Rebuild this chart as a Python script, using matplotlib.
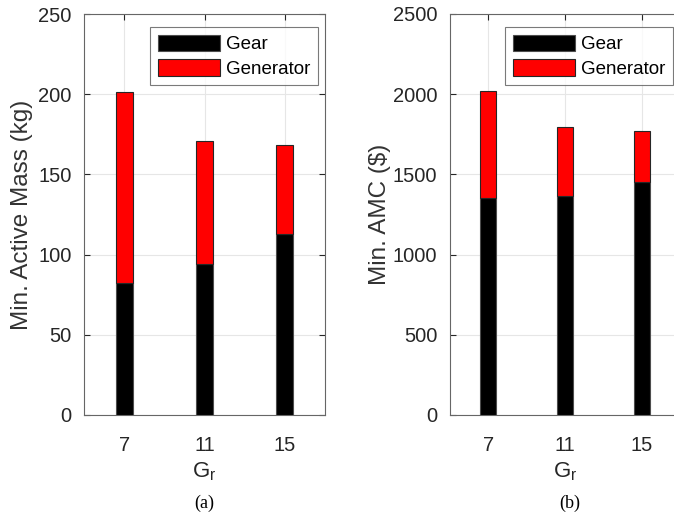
import matplotlib

matplotlib.use("Agg")
import matplotlib.pyplot as plt
from matplotlib.ticker import MultipleLocator

# gear ratios and stacked components
ratios = [7, 11, 15]
mass_gear = [82, 94, 113]
mass_gen = [119.5, 77, 55.5]
cost_gear = [1355, 1365, 1455]
cost_gen = [667, 428, 316]

plt.rcParams["font.family"] = ["Liberation Sans", "DejaVu Sans"]

W, H = 674, 512
fig = plt.figure(figsize=(W / 100, H / 100), dpi=100)


def panel(left, width, gear, gen, ylim, ystep, ylabel, label_x, caption):
    ax = fig.add_axes([left / W, (H - 415) / H, width / W, 401 / H])
    ax.bar(ratios, gear, width=0.83, color="black", edgecolor="0.3", lw=0.8,
           label="Gear", zorder=3)
    ax.bar(ratios, gen, bottom=gear, width=0.83, color="#ff0000",
           edgecolor="0.15", lw=0.8, label="Generator", zorder=3)
    ax.set_xlim(5, 17)
    ax.set_ylim(0, ylim)
    ax.set_xticks(ratios)
    ax.yaxis.set_major_locator(MultipleLocator(ystep))
    ax.grid(True, color="0.9", lw=0.8, zorder=0)
    ax.tick_params(direction="in", length=4, labelsize=14.5, colors="0.15",
                   right=True, top=True)
    ax.tick_params(axis="x", pad=15)
    ax.tick_params(axis="y", pad=9)
    for s in ax.spines.values():
        s.set_color("0.4")
        s.set_linewidth(0.8)
    ax.set_xlabel("G$_\\mathregular{r}$", fontsize=16, color="0.15", labelpad=4)
    ax.set_ylabel(ylabel, fontsize=17.5, color="0.2")
    ax.yaxis.set_label_coords((label_x - left) / width, 0.5)
    # legend corner pinned just inside the upper right
    leg = ax.legend(loc="upper right",
                    bbox_to_anchor=(1 - 7 / width, 1 - 13 / 401),
                    borderaxespad=0, fontsize=13.5, frameon=True, fancybox=False,
                    handlelength=3.3, handleheight=1.0, borderpad=0.4,
                    labelspacing=0.3, handletextpad=0.35)
    leg.get_frame().set_edgecolor("0.35")
    leg.get_frame().set_linewidth(0.8)
    fig.text((left + 120) / W, 1 - 503 / H, caption, ha="center", va="center",
             fontsize=13, family="Liberation Serif")
    return ax


panel(84, 241, mass_gear, mass_gen, 250, 50, "Min. Active Mass (kg)", 33, "(a)")
panel(450, 230, cost_gear, cost_gen, 2500, 500, "Min. AMC ($)", 391, "(b)")

fig.savefig("out.png", dpi=100)
